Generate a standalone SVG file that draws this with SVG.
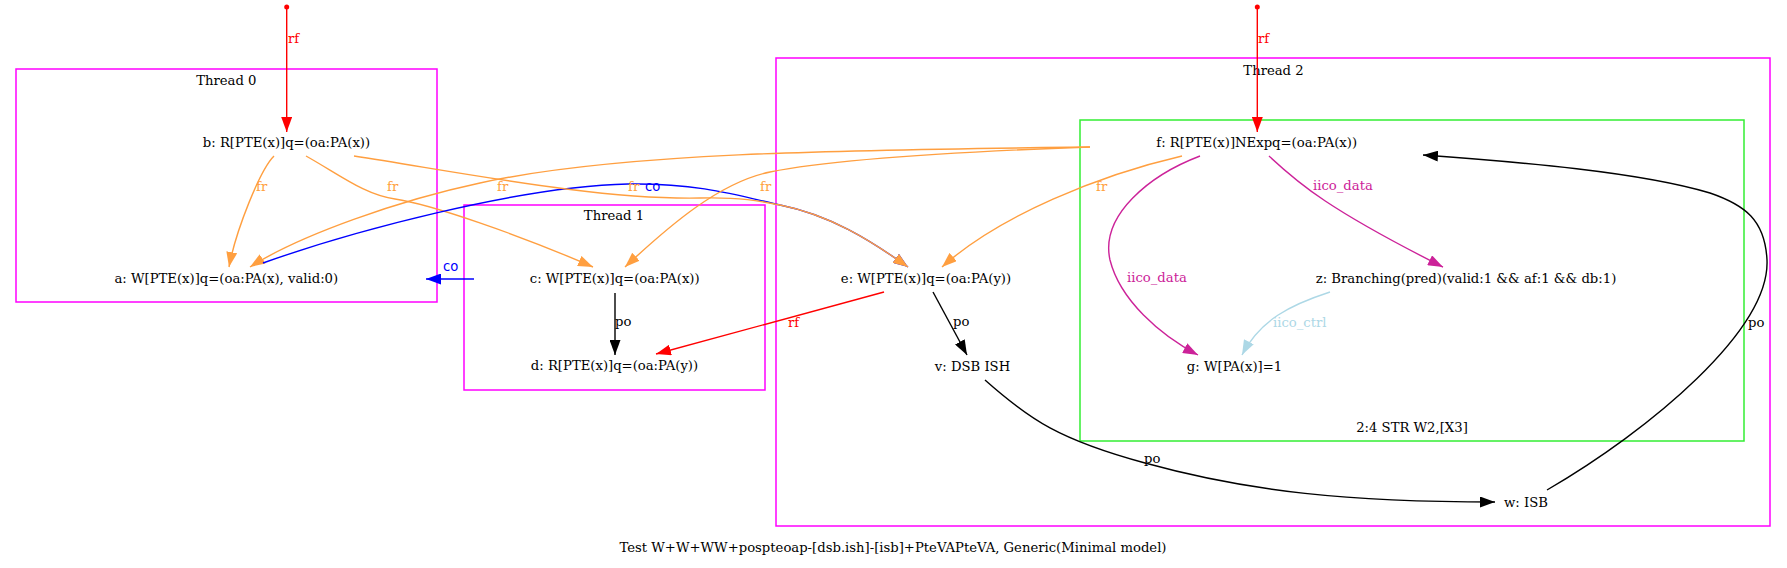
<svg xmlns="http://www.w3.org/2000/svg" width="1787" height="568" viewBox="0 0 1787 568">
<style>
text{font-family:"DejaVu Serif",serif;font-size:13.2px;fill:#000}
.n{text-anchor:middle}
.cl{fill:none;stroke:#ff00ff;stroke-width:1.5}
.gr{fill:none;stroke:#33ee33;stroke-width:1.5}
.e{fill:none;stroke-width:1.4}
.red{stroke:#ff0000}.blk{stroke:#000}.org{stroke:#ff9f40}.blu{stroke:#0000ff}.mag{stroke:#cc2299}.lb{stroke:#add8e6}
.tred{fill:#ff0000}.torg{fill:#ff9f40}.tblu{fill:#0000ff;font-family:"DejaVu Sans",sans-serif}.tmag{fill:#cc2299}.tlb{fill:#add8e6}
</style>
<defs>
<marker id="aRed" markerUnits="userSpaceOnUse" markerWidth="15" markerHeight="11" viewBox="0 0 15 11" refX="15" refY="5.5" orient="auto"><path d="M0,0L15,5.5L0,11z" fill="#ff0000"/></marker>
<marker id="aBlk" markerUnits="userSpaceOnUse" markerWidth="15" markerHeight="11" viewBox="0 0 15 11" refX="15" refY="5.5" orient="auto"><path d="M0,0L15,5.5L0,11z" fill="#000"/></marker>
<marker id="aOrg" markerUnits="userSpaceOnUse" markerWidth="15" markerHeight="11" viewBox="0 0 15 11" refX="15" refY="5.5" orient="auto"><path d="M0,0L15,5.5L0,11z" fill="#ff9f40"/></marker>
<marker id="aBlu" markerUnits="userSpaceOnUse" markerWidth="15" markerHeight="11" viewBox="0 0 15 11" refX="15" refY="5.5" orient="auto"><path d="M0,0L15,5.5L0,11z" fill="#0000ff"/></marker>
<marker id="aMag" markerUnits="userSpaceOnUse" markerWidth="15" markerHeight="11" viewBox="0 0 15 11" refX="15" refY="5.5" orient="auto"><path d="M0,0L15,5.5L0,11z" fill="#cc2299"/></marker>
<marker id="aLb" markerUnits="userSpaceOnUse" markerWidth="15" markerHeight="11" viewBox="0 0 15 11" refX="15" refY="5.5" orient="auto"><path d="M0,0L15,5.5L0,11z" fill="#add8e6"/></marker>
</defs>
<rect width="1787" height="568" fill="#fff"/>
<g id="clusters">
<g id="thread0"><rect class="cl" x="16" y="69" width="421" height="233"/><text class="n" x="226.3" y="85">Thread 0</text></g>
<g id="thread1"><rect class="cl" x="464" y="205" width="301" height="185"/><text class="n" x="614" y="220">Thread 1</text></g>
<g id="thread2"><rect class="cl" x="776" y="58" width="994" height="468"/><text class="n" x="1273.5" y="75">Thread 2</text></g>
<g id="str"><rect class="gr" x="1080" y="120" width="664" height="321"/><text class="n" x="1412" y="432">2:4 STR W2,[X3]</text></g>
</g>
<g id="edges">
<circle cx="286.7" cy="7" r="2.5" fill="#ff0000"/>
<path class="e red" d="M286.7,7L286.7,132" marker-end="url(#aRed)"/>
<text class="tred" x="288" y="43">rf</text>
<circle cx="1257.3" cy="7" r="2.5" fill="#ff0000"/>
<path class="e red" d="M1257.3,7L1257.3,132" marker-end="url(#aRed)"/>
<text class="tred" x="1258" y="43">rf</text>
<path class="e org" d="M274,156C260,170 236,230 229,267" marker-end="url(#aOrg)"/>
<text class="torg" x="256" y="191">fr</text>
<path class="e org" d="M306,156C340,175 365,195 395,199C430,204 520,235 593,267" marker-end="url(#aOrg)"/>
<text class="torg" x="387" y="191">fr</text>
<path class="e org" d="M1090,147C850,150 620,152 480,183C400,200 300,235 250,267" marker-end="url(#aOrg)"/>
<text class="torg" x="497" y="191">fr</text>
<path class="e blu" d="M263,263C350,232 520,186 628,184C700,183 740,196 780,205C830,215 870,240 908,267" marker-end="url(#aBlu)"/>
<text class="tblu" x="645" y="191">co</text>
<path class="e org" d="M354,156C470,174 600,200 700,198C740,197 760,201 780,205C830,215 870,240 908,267" marker-end="url(#aOrg)"/>
<text class="torg" x="628" y="191">fr</text>
<path class="e org" d="M1090,147C950,152 830,160 770,172C720,182 670,225 625,267" marker-end="url(#aOrg)"/>
<text class="torg" x="760" y="191">fr</text>
<path class="e org" d="M1182,156C1100,175 1000,215 942,267" marker-end="url(#aOrg)"/>
<text class="torg" x="1096" y="191">fr</text>
<path class="e blu" d="M474,279L426,279" marker-end="url(#aBlu)"/>
<text class="tblu" x="443" y="271">co</text>
<path class="e blk" d="M615,293L615,355" marker-end="url(#aBlk)"/>
<text x="615" y="326">po</text>
<path class="e red" d="M884,292L656,354" marker-end="url(#aRed)"/>
<text class="tred" x="788" y="327">rf</text>
<path class="e blk" d="M933,292L967,355" marker-end="url(#aBlk)"/>
<text x="953" y="326">po</text>
<path class="e blk" d="M985,380C1030,420 1060,440 1145,463C1250,492 1350,502 1495,502" marker-end="url(#aBlk)"/>
<text x="1144" y="463">po</text>
<path class="e blk" d="M1547,490C1650,430 1770,330 1767,260C1765,220 1745,205 1710,193C1640,172 1520,162 1423,155" marker-end="url(#aBlk)"/>
<text x="1748" y="327">po</text>
<path class="e mag" d="M1200,156C1150,175 1100,215 1110,260C1120,300 1160,335 1198,355" marker-end="url(#aMag)"/>
<text class="tmag" x="1127" y="282">iico_data</text>
<path class="e mag" d="M1269,156C1300,185 1330,210 1443,267" marker-end="url(#aMag)"/>
<text class="tmag" x="1313" y="190">iico_data</text>
<path class="e lb" d="M1330,292C1290,305 1260,320 1242,355" marker-end="url(#aLb)"/>
<text class="tlb" x="1273" y="327">iico_ctrl</text>
</g>
<g id="node-b"><text class="n" x="286.5" y="147">b: R[PTE(x)]q=(oa:PA(x))</text></g>
<g id="node-a"><text class="n" x="226.3" y="283">a: W[PTE(x)]q=(oa:PA(x), valid:0)</text></g>
<g id="node-c"><text class="n" x="614.7" y="283">c: W[PTE(x)]q=(oa:PA(x))</text></g>
<g id="node-d"><text class="n" x="614.5" y="370">d: R[PTE(x)]q=(oa:PA(y))</text></g>
<g id="node-e"><text class="n" x="926" y="283">e: W[PTE(x)]q=(oa:PA(y))</text></g>
<g id="node-v"><text class="n" x="972.5" y="371">v: DSB ISH</text></g>
<g id="node-w"><text class="n" x="1526" y="507">w: ISB</text></g>
<g id="node-f"><text class="n" x="1256.7" y="147">f: R[PTE(x)]NExpq=(oa:PA(x))</text></g>
<g id="node-z"><text class="n" x="1466" y="283">z: Branching(pred)(valid:1 &amp;&amp; af:1 &amp;&amp; db:1)</text></g>
<g id="node-g"><text class="n" x="1234.5" y="371">g: W[PA(x)]=1</text></g>
<text class="n" x="893" y="552">Test W+W+WW+pospteoap-[dsb.ish]-[isb]+PteVAPteVA, Generic(Minimal model)</text>
</svg>
